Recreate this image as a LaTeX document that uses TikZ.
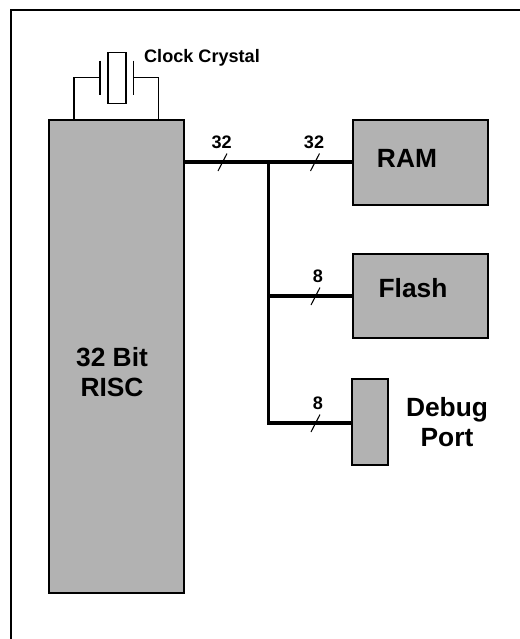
\documentclass[tikz,border=0pt]{standalone}
\usepackage{fontspec}
\setmainfont{Liberation Sans}
\definecolor{customgray}{RGB}{178, 178, 178}
\usetikzlibrary{positioning}
\tikzset{
    block/.style={draw, line width=1.6pt, fill=customgray},
    bus/.style={line width=1.8pt},
    wire/.style={line width=0.8pt},
    tick/.style={line width=0.6pt},
    biglabel/.style={font=\fontsize{15}{17}\selectfont\bfseries, align=center, inner sep=0pt},
    smalllabel/.style={font=\fontsize{10.3}{12}\selectfont\bfseries, inner sep=0pt},
}
\begin{document}
\begin{tikzpicture}[x=0.02cm, y=-0.02cm]
    \useasboundingbox (0,0) rectangle (520,639);
    % outer frame
    \draw[line width=1.2pt] (11,639) |- (520,10);

    % blocks
    \node[block, minimum width=135*0.02cm, minimum height=473*0.02cm] (risc) at (116.5,356.5) {};
    \node[block, minimum width=135*0.02cm, minimum height=85*0.02cm] (ram) at (420.5,162.5) {};
    \node[block, minimum width=135*0.02cm, minimum height=84*0.02cm] (flash) at (420.5,296) {};
    \node[block, minimum width=36*0.02cm, minimum height=86*0.02cm] (debug) at (370,422) {};
    \node[biglabel] (risclabel) at (112,372) {32 Bit\\RISC};
    \node[biglabel] (ramlabel) at (407,158) {RAM};
    \node[biglabel] (flashlabel) at (413,288) {Flash};
    \node[biglabel] (debuglabel) at (447,422) {Debug\\Port};

    % crystal
    \node[draw, wire, minimum width=18*0.02cm, minimum height=51*0.02cm, inner sep=0pt] (crystal) at (117.2,78.2) {};
    \coordinate (plateL) at (100,77.7);
    \coordinate (plateR) at (133.7,77.7);
    \draw[wire] (plateL) ++(0,-17) -- ++(0,34.5);
    \draw[wire] (plateR) ++(0,-17) -- ++(0,34.5);
    \draw[wire] (plateL) -| (74,120);
    \draw[wire] (plateR) -| (158.5,120);
    \node[smalllabel] (crystallabel) at (202,58) {Clock Crystal};

    % buses
    \coordinate (tee) at (268.5,162);
    \coordinate (teeflash) at (268.5,296);
    \coordinate (teedebug) at (268.5,423);
    \draw[bus] (risc.east |- tee) -- (tee) -- (ram.west |- tee);
    \draw[bus] (tee) -- (teedebug) -- (debug.west |- teedebug);
    \draw[line width=2.6pt] (teeflash) -- (flash.west);

    % width marks
    \foreach \x/\y/\lx/\w in {222.5/162/221.6/32, 315/162/314/32, 315.5/296/318/8, 315.5/423/318/8} {
        \draw[tick] (\x-4.5,\y+9) -- (\x+4.5,\y-8.5);
        \node[smalllabel] at (\lx,\y-19.8) {\w};
    }
\end{tikzpicture}
\end{document}
